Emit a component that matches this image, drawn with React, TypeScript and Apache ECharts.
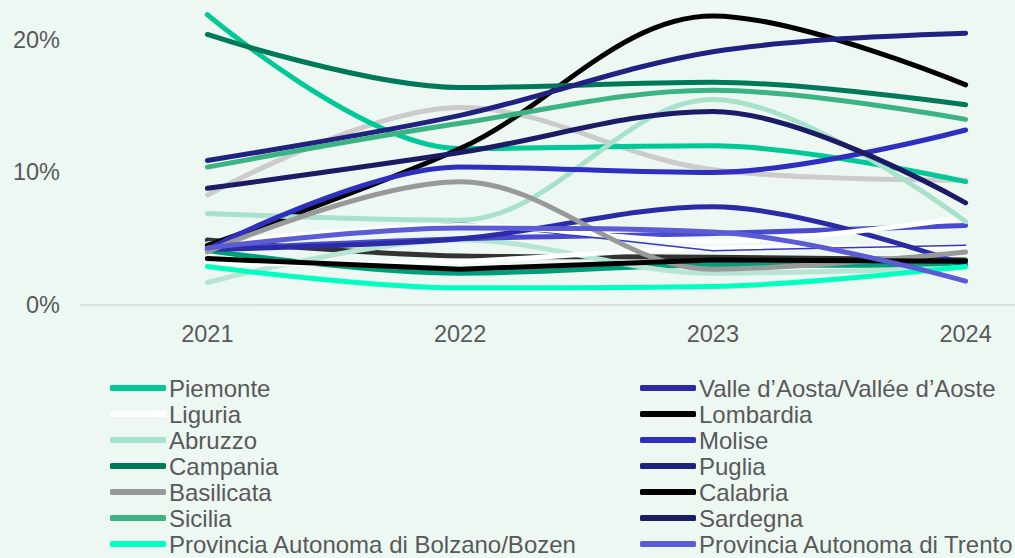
import React, { useEffect, useRef } from "react";
import * as echarts from "echarts";

const years = ["2021", "2022", "2023", "2024"];
const yTicks = [0, 10, 20];

const piemonte = [21.9, 11.8, 12.0, 9.3];
const valleAosta = [4.2, 5.0, 7.4, 3.0];
const liguria = [4.6, 6.0, 4.8, 6.6];
const lombardia = [4.5, 11.8, 21.8, 16.6];
const veneto = [8.3, 14.9, 10.2, 9.4];
const friuli = [4.9, 3.7, 3.6, 3.4];
const emilia = [4.1, 2.4, 3.0, 3.0];
const toscana = [1.7, 4.9, 2.4, 2.8];
const umbria = [4.2, 5.0, 5.4, 6.0];
const marche = [4.5, 6.2, 4.1, 4.5];
const lazio = [3.1, 3.3, 4.3, 4.4];
const abruzzo = [6.9, 6.4, 15.5, 6.3];
const molise = [4.2, 10.4, 10.0, 13.2];
const campania = [20.4, 16.4, 16.8, 15.1];
const puglia = [10.9, 14.3, 19.1, 20.5];
const basilicata = [4.0, 9.3, 2.7, 4.0];
const calabria = [3.5, 2.7, 3.4, 3.3];
const sicilia = [10.4, 13.7, 16.2, 14.0];
const sardegna = [8.8, 11.5, 14.6, 7.7];
const bolzano = [2.9, 1.3, 1.4, 2.9];
const trento = [4.3, 5.8, 5.5, 1.8];

const seriesDefs = [
  { name: "Veneto", data: veneto, color: "#cccccc", width: 5, smooth: true },
  { name: "Friuli-Venezia Giulia", data: friuli, color: "#333333", width: 5, smooth: true },
  { name: "Emilia-Romagna", data: emilia, color: "#009e7a", width: 5, smooth: true },
  { name: "Toscana", data: toscana, color: "#b6e6d3", width: 5, smooth: true },
  { name: "Umbria", data: umbria, color: "#4a4ad0", width: 5, smooth: true },
  { name: "Lazio", data: lazio, color: "#ffffff", width: 5, smooth: true },
  { name: "Marche", data: marche, color: "#3535c8", width: 1.5, smooth: false },
  { name: "Piemonte", data: piemonte, color: "#00c896", width: 5, smooth: true },
  { name: "Valle d’Aosta/Vallée d’Aoste", data: valleAosta, color: "#2b2ba6", width: 5, smooth: true },
  { name: "Liguria", data: liguria, color: "#ffffff", width: 5, smooth: true },
  { name: "Lombardia", data: lombardia, color: "#000000", width: 5, smooth: true },
  { name: "Abruzzo", data: abruzzo, color: "#a8e2cb", width: 5, smooth: true },
  { name: "Molise", data: molise, color: "#2f2fbf", width: 5, smooth: true },
  { name: "Campania", data: campania, color: "#00785a", width: 5, smooth: true },
  { name: "Puglia", data: puglia, color: "#212180", width: 5, smooth: true },
  { name: "Basilicata", data: basilicata, color: "#999999", width: 5, smooth: true },
  { name: "Calabria", data: calabria, color: "#000000", width: 5, smooth: false },
  { name: "Sicilia", data: sicilia, color: "#3cb382", width: 5, smooth: true },
  { name: "Sardegna", data: sardegna, color: "#1b1b66", width: 5, smooth: true },
  { name: "Provincia Autonoma di Bolzano/Bozen", data: bolzano, color: "#00ffc0", width: 5, smooth: true },
  { name: "Provincia Autonoma di Trento", data: trento, color: "#5b5bd6", width: 5, smooth: true },
];

const legendLeft = [
  "Piemonte",
  "Liguria",
  "Abruzzo",
  "Campania",
  "Basilicata",
  "Sicilia",
  "Provincia Autonoma di Bolzano/Bozen",
];
const legendRight = [
  "Valle d’Aosta/Vallée d’Aoste",
  "Lombardia",
  "Molise",
  "Puglia",
  "Calabria",
  "Sardegna",
  "Provincia Autonoma di Trento",
];

const BG = "#edf8f3";
const TXT = "#595959";
const FONT = "'Liberation Sans', Arial, sans-serif";

export default function App() {
  const ref = useRef<HTMLDivElement>(null);
  useEffect(() => {
    document.body.style.margin = "0";
    document.body.style.background = BG;
    const chart = echarts.init(ref.current!, null, { renderer: "svg" });
    const legendCommon = {
      orient: "vertical",
      top: 376,
      height: 400,
      width: 600,
      itemWidth: 56,
      itemHeight: 6,
      itemGap: 2,
      icon: "roundRect",
      selectedMode: false,
      padding: 0,
      textStyle: { color: TXT, fontSize: 24, fontFamily: FONT, lineHeight: 24, padding: [0, 0, 0, -2] },
    };
    chart.setOption({
      animation: false,
      backgroundColor: BG,
      textStyle: { fontFamily: FONT },
      grid: { left: 81, top: 0, width: 1011, height: 305, outerBoundsMode: "none", containLabel: false },
      legend: [
        { ...legendCommon, left: 110, data: legendLeft },
        { ...legendCommon, left: 640, data: legendRight },
      ],
      xAxis: {
        type: "category",
        data: years,
        boundaryGap: true,
        axisLine: { lineStyle: { color: "#d9d9d9", width: 1.5 } },
        axisTick: { show: false },
        axisLabel: { color: TXT, fontSize: 23.5, fontFamily: FONT, margin: 17 },
      },
      yAxis: {
        type: "value",
        min: 0,
        max: 23,
        interval: 10,
        splitLine: { show: false },
        axisLine: { show: false },
        axisTick: { show: false },
        axisLabel: {
          color: TXT,
          fontSize: 23.5,
          fontFamily: FONT,
          margin: 21,
          formatter: (v: number) => (yTicks.includes(v) ? v + "%" : ""),
        },
      },
      series: seriesDefs.map((s) => ({
        name: s.name,
        type: "line",
        data: s.data,
        smooth: s.smooth ? 0.35 : false,
        showSymbol: false,
        symbol: "none",
        color: s.color,
        lineStyle: { color: s.color, width: s.width, cap: "round", join: "round" },
        emphasis: { disabled: true },
      })),
    });
    return () => chart.dispose();
  }, []);
  return <div ref={ref} style={{ width: 1015, height: 558 }} />;
}
